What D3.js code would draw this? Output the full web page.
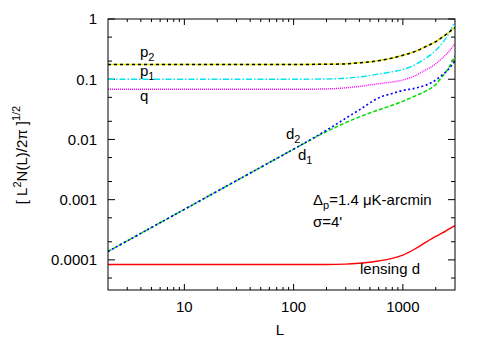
<!DOCTYPE html>
<html>
  <head>
    <meta charset="utf-8" />
    <title>Noise spectra</title>
    <script src="https://d3js.org/d3.v7.min.js"></script>
    <style>
      body { margin: 0; background: #fff; }
      text { font-family: "Liberation Sans", Arial, sans-serif; font-size: 15px; fill: #000; }
    </style>
  </head>
  <body>
    <svg id="chart" width="482" height="338"></svg>

    <script>
      var ells = [2, 10, 50, 100, 200, 300, 400, 600, 800, 1000, 1300, 1600, 2000, 2300, 2600, 3000];

      var p2Values = [0.176, 0.176, 0.176, 0.176, 0.177, 0.18, 0.187, 0.203, 0.225, 0.25, 0.29, 0.345, 0.42, 0.5, 0.59, 0.72];
      var p1Values = [0.1, 0.1, 0.1, 0.1, 0.101, 0.104, 0.109, 0.122, 0.133, 0.145, 0.175, 0.22, 0.3, 0.4, 0.55, 0.92];
      var qValues = [0.068, 0.068, 0.068, 0.068, 0.069, 0.072, 0.076, 0.084, 0.09, 0.097, 0.115, 0.141, 0.18, 0.225, 0.28, 0.39];
      var d2Values = [0.000138, 0.00069, 0.00345, 0.0069, 0.0142, 0.0225, 0.031, 0.049, 0.058, 0.065, 0.071, 0.079, 0.097, 0.118, 0.145, 0.2];
      var d1Values = [0.000138, 0.00069, 0.00345, 0.0069, 0.0135, 0.019, 0.0237, 0.031, 0.037, 0.043, 0.053, 0.063, 0.082, 0.112, 0.15, 0.245];
      var lensValues = [0.000084, 0.000084, 0.000084, 0.000084, 0.000084, 0.000085, 0.000088, 0.000096, 0.000106, 0.00012, 0.000153, 0.000193, 0.000245, 0.00028, 0.00032, 0.00037];

      var xTickValues = [10, 100, 1000];
      var yTickValues = [1, 0.1, 0.01, 0.001, 0.0001];

      var margin = { left: 108, right: 27, top: 19, bottom: 48 };
      var width = 482, height = 338;

      var svg = d3.select("#chart");

      var x = d3.scaleLog().domain([2, 3000]).range([margin.left, width - margin.right]);
      var y = d3.scaleLog().domain([Math.pow(10, -4.5), 1]).range([height - margin.bottom, margin.top]);

      svg.append("defs").append("clipPath").attr("id", "plotclip")
        .append("rect")
        .attr("x", margin.left).attr("y", margin.top)
        .attr("width", width - margin.left - margin.right)
        .attr("height", height - margin.top - margin.bottom);

      // minor + major ticks, mirrored on all four sides
      var xMinor = [];
      [1, 10, 100, 1000].forEach(function (dec) {
        for (var k = 2; k <= 9; k++) {
          var v = dec * k;
          if (v > 2 && v < 3000) xMinor.push(v);
        }
      });
      var yMinor = [];
      [0.00001, 0.0001, 0.001, 0.01, 0.1].forEach(function (dec) {
        [2, 5].forEach(function (k) {
          var v = dec * k;
          if (v > Math.pow(10, -4.5) && v < 1) yMinor.push(v);
        });
      });

      var ticks = svg.append("g").attr("stroke", "#000").attr("stroke-width", 1);
      var x0 = margin.left, x1 = width - margin.right;
      var y0 = height - margin.bottom, y1 = margin.top;

      function xTick(v, len) {
        ticks.append("line").attr("x1", x(v)).attr("x2", x(v)).attr("y1", y0).attr("y2", y0 - len);
        ticks.append("line").attr("x1", x(v)).attr("x2", x(v)).attr("y1", y1).attr("y2", y1 + len);
      }
      function yTick(v, len) {
        ticks.append("line").attr("y1", y(v)).attr("y2", y(v)).attr("x1", x0).attr("x2", x0 + len);
        ticks.append("line").attr("y1", y(v)).attr("y2", y(v)).attr("x1", x1).attr("x2", x1 - len);
      }
      xMinor.forEach(function (v) { xTick(v, 3); });
      xTickValues.forEach(function (v) { xTick(v, 6); });
      yMinor.forEach(function (v) { yTick(v, 4); });
      yTickValues.forEach(function (v) { yTick(v, 7); });

      // tick labels
      svg.selectAll(".xlab").data(xTickValues).enter().append("text")
        .attr("x", function (d) { return x(d); })
        .attr("y", 312)
        .attr("text-anchor", "middle")
        .text(function (d) { return d; });

      svg.selectAll(".ylab").data(yTickValues).enter().append("text")
        .attr("x", 97)
        .attr("y", function (d) { return y(d); })
        .attr("dy", "0.36em")
        .attr("text-anchor", "end")
        .text(function (d) { return String(d); });

      svg.append("text").attr("x", 280).attr("y", 335).attr("text-anchor", "middle").text("L");

      var ylab = svg.append("text")
        .attr("transform", "translate(27,155) rotate(-90)")
        .attr("text-anchor", "middle");
      ylab.append("tspan").text("[ L");
      ylab.append("tspan").attr("dy", -6).style("font-size", "11px").text("2");
      ylab.append("tspan").attr("dy", 6).text("N(L)/2\u03c0 ]");
      ylab.append("tspan").attr("dy", -7).style("font-size", "11px").text("1/2");

      // curves
      var line = d3.line()
        .x(function (d) { return x(d[0]); })
        .y(function (d) { return y(d[1]); })
        .curve(d3.curveMonotoneX);

      function pairs(vals) {
        return ells.map(function (l, i) { return [l, vals[i]]; });
      }

      var curves = [
        { vals: lensValues, color: "#ff0000", dash: null, w: 1.4 },
        { vals: d1Values, color: "#00dd00", dash: "4,2", w: 1.5 },
        { vals: d2Values, color: "#0000ff", dash: "2,2.5", w: 1.6 },
        { vals: qValues, color: "#ff00ff", dash: "1,1", w: 1.4 },
        { vals: p1Values, color: "#00e5ee", dash: "6,2,1.5,2", w: 1.4 },
        { vals: p2Values, color: "#e6e600", dash: null, w: 1.5 },
        { vals: p2Values, color: "#000000", dash: "3,3", w: 1.5 }
      ];

      var plot = svg.append("g").attr("clip-path", "url(#plotclip)");
      plot.selectAll("path").data(curves).enter().append("path")
        .attr("d", function (c) { return line(pairs(c.vals)); })
        .attr("fill", "none")
        .attr("stroke", function (c) { return c.color; })
        .attr("stroke-width", function (c) { return c.w; })
        .attr("stroke-dasharray", function (c) { return c.dash; });

      // frame
      svg.append("rect")
        .attr("x", x0).attr("y", y1)
        .attr("width", x1 - x0).attr("height", y0 - y1)
        .attr("fill", "none").attr("stroke", "#000").attr("stroke-width", 1);

      // curve labels
      function label(xp, yp, main, sub) {
        var t = svg.append("text").attr("x", xp).attr("y", yp);
        t.append("tspan").text(main);
        if (sub) t.append("tspan").attr("dy", 4).style("font-size", "11px").text(sub);
        return t;
      }
      label(140, 57, "p", "2");
      label(140, 76, "p", "1");
      label(140, 101, "q");
      label(286, 139, "d", "2");
      label(298, 160, "d", "1");
      label(360, 274, "lensing d");

      var note = svg.append("text").attr("x", 313).attr("y", 205);
      note.append("tspan").text("\u0394");
      note.append("tspan").attr("dy", 4).style("font-size", "11px").text("p");
      note.append("tspan").attr("dy", -4).text("=1.4 \u03bcK-arcmin");
      svg.append("text").attr("x", 313).attr("y", 227).text("\u03c3=4'");
    </script>
  </body>
</html>
